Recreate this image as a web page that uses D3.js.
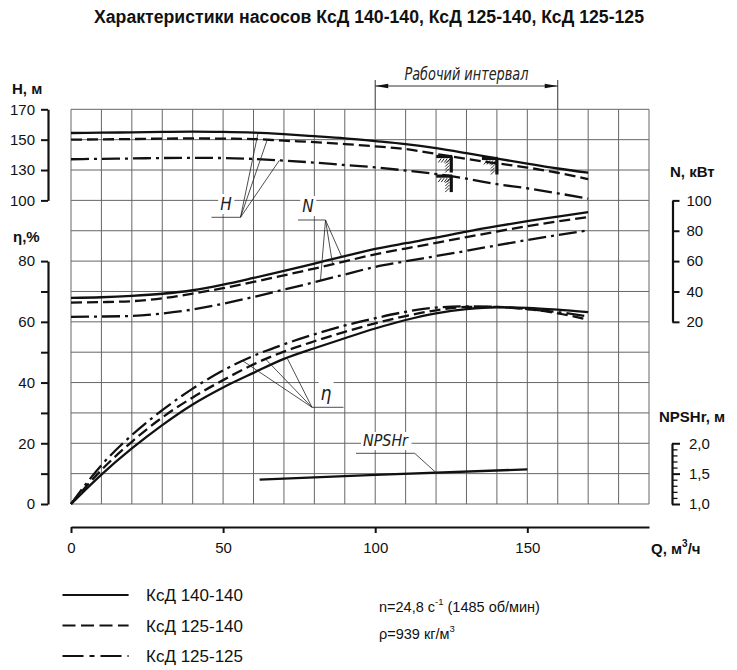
<!DOCTYPE html>
<html><head><meta charset="utf-8">
<script src="https://cdn.jsdelivr.net/npm/d3@7/dist/d3.min.js"></script>
<style>body{margin:0;background:#fff}svg{display:block}</style>
</head><body>
<svg id="c" width="737" height="670"></svg>
<script>
// ---------- data ----------
const title = "Характеристики насосов КсД 140-140, КсД 125-140, КсД 125-125";
const seriesNames = ["КсД 140-140", "КсД 125-140", "КсД 125-125"];
const Q = [0,10,20,30,40,50,60,70,80,90,100,110,120,130,140,150,160,170];

const H_140_140 = [154.4,154.6,154.8,155.1,155.3,155.1,154.6,153.6,152.3,150.9,149.1,147.1,144.4,141.1,137.6,134.2,131.0,127.3];
const H_125_140 = [150.0,150.2,150.4,150.7,150.8,150.7,150.4,149.3,148.4,147.1,145.6,143.8,140.6,137.3,134.4,131.6,127.3,121.0];
const H_125_125 = [137.1,137.4,137.6,137.9,138.0,137.9,137.3,136.2,134.9,133.3,131.8,129.5,126.0,121.5,116.0,112.0,107.0,101.7];

const N_140_140 = [35.8,36.2,37.1,38.5,40.8,44.5,48.9,53.5,58.4,63.3,68.0,71.8,75.4,79.4,83.0,86.3,89.3,92.3];
const N_125_140 = [32.7,33.0,33.6,35.5,38.6,42.2,46.3,50.6,55.1,59.8,64.5,68.3,72.0,75.8,79.5,83.0,86.2,89.0];
const N_125_125 = [23.3,23.5,23.9,25.5,28.1,31.9,36.4,41.2,46.1,51.2,56.2,59.9,63.3,66.8,70.4,73.9,77.2,80.3];

const Eta_140_140 = [0,9.7,18.3,26.0,32.8,38.4,43.2,47.8,51.3,54.6,57.8,60.6,62.8,64.2,64.8,64.6,64.0,63.2];
const Eta_125_140 = [0,11.2,20.5,28.5,35.1,40.8,46.0,50.2,53.6,56.7,59.5,61.9,63.8,64.9,64.9,64.2,62.8,60.7];
const Eta_125_125 = [0,12.8,22.7,30.9,38.0,44.0,48.8,52.6,55.9,58.8,61.2,63.3,64.7,65.1,64.9,64.2,63.2,61.8];

const NPSH_Q = [62, 100, 150];
const NPSH_V = [1.40, 1.48, 1.57];

// nominal-point markers (Q, H)
const nomQ = [125, 125, 140];
const nomH = [138.9, 124.0, 137.6];

// working interval
const workQ = [100, 160];

// axis ticks
const hTicks = [100, 130, 150, 170];
const etaTicks = [0,10,20,30,40,50,60,70,80];
const nTicks = [20, 40, 60, 80, 100];
const npshMajor = [1.0, 1.5, 2.0];
const npshMinor = [1.1,1.2,1.3,1.4,1.6,1.7,1.8,1.9];
const qTicks = [0, 50, 100, 150];

// ---------- layout ----------
const svg = d3.select("#c");
const FONT = "'Liberation Sans', Arial, sans-serif";
const NARROW = "'Liberation Sans Narrow', 'DejaVu Sans Condensed', 'Liberation Sans', sans-serif";

const xS = d3.scaleLinear().domain([0, 190]).range([71, 649]);
const rowS = d3.scaleLinear().domain([0, 13]).range([504, 109.3]);
const etaS = d3.scaleLinear().domain([0, 80]).range([rowS(0), rowS(8)]);
const hS = d3.scaleLinear().domain([100, 130, 170]).range([rowS(10), rowS(11), rowS(13)]);
const nS = d3.scaleLinear().domain([20, 100]).range([rowS(6), rowS(10)]);
const npS = d3.scaleLinear().domain([1, 2]).range([rowS(0), rowS(2)]);

// title
svg.append("text").attr("x", 369).attr("y", 23).attr("text-anchor", "middle")
  .attr("font-family", FONT).attr("font-weight", "bold").attr("font-size", 17.5)
  .attr("textLength", 550).attr("lengthAdjust", "spacingAndGlyphs")
  .attr("fill", "#111").text(title);

// grid
const grid = svg.append("g").attr("stroke", "#666").attr("stroke-width", 1);
d3.range(0, 191, 10).forEach(q => {
  grid.append("line").attr("x1", xS(q)).attr("x2", xS(q)).attr("y1", rowS(0)).attr("y2", rowS(13));
});
d3.range(0, 14).forEach(r => {
  grid.append("line").attr("x1", xS(0)).attr("x2", xS(190)).attr("y1", rowS(r)).attr("y2", rowS(r));
});

// working interval
const wi = svg.append("g").attr("stroke", "#333").attr("stroke-width", 1);
workQ.forEach(q => wi.append("line").attr("x1", xS(q)).attr("x2", xS(q)).attr("y1", 80).attr("y2", rowS(13)));
wi.append("line").attr("x1", xS(workQ[0])).attr("x2", xS(workQ[1])).attr("y1", 86).attr("y2", 86);
svg.append("path").attr("fill", "#111")
  .attr("d", `M${xS(workQ[0])},86 l13,-2.3 l0,4.6 Z M${xS(workQ[1])},86 l-13,-2.3 l0,4.6 Z`);
svg.append("text").attr("x", (xS(workQ[0]) + xS(workQ[1])) / 2).attr("y", 80)
  .attr("text-anchor", "middle").attr("font-family", NARROW).attr("font-style", "italic")
  .attr("font-size", 17).attr("fill", "#222")
  .attr("textLength", 124).attr("lengthAdjust", "spacingAndGlyphs").text("Рабочий интервал");

// ---------- axes ----------
function styleAxis(g, fs) {
  g.select(".domain").attr("stroke", "#111").attr("stroke-width", 2.2);
  g.selectAll(".tick line").attr("stroke", "#111").attr("stroke-width", 2);
  g.selectAll(".tick text").attr("font-family", FONT).attr("font-size", fs || 15).attr("fill", "#111");
}
const gH = svg.append("g").attr("transform", "translate(48,0)")
  .call(d3.axisLeft(hS).tickValues(hTicks).tickSize(7).tickSizeOuter(0).tickPadding(6));
styleAxis(gH);
const gE = svg.append("g").attr("transform", "translate(48,0)")
  .call(d3.axisLeft(etaS).tickValues(etaTicks).tickSize(7).tickSizeOuter(0).tickPadding(6)
    .tickFormat(d => d % 20 === 0 ? d : ""));
styleAxis(gE);
const gN = svg.append("g").attr("transform", "translate(672.5,0)")
  .call(d3.axisRight(nS).tickValues(nTicks).tickSize(7).tickSizeOuter(0).tickPadding(7));
styleAxis(gN);
const gP = svg.append("g").attr("transform", "translate(672,0)")
  .call(d3.axisRight(npS).tickValues(npshMajor).tickSize(8).tickSizeOuter(0).tickPadding(9)
    .tickFormat(d => d.toFixed(1).replace(".", ",")));
styleAxis(gP);
const gP2 = svg.append("g").attr("transform", "translate(672,0)")
  .call(d3.axisRight(npS).tickValues(npshMinor).tickSize(5.5).tickSizeOuter(0).tickFormat(""));
gP2.select(".domain").remove();
gP2.selectAll(".tick line").attr("stroke", "#111").attr("stroke-width", 1.3);
const gX = svg.append("g").attr("transform", "translate(0,527)")
  .call(d3.axisBottom(xS).tickValues(qTicks).tickSize(6).tickSizeOuter(0).tickPadding(9));
styleAxis(gX);

// axis titles
function boldText(x, y, parts, anchor) {
  const t = svg.append("text").attr("x", x).attr("y", y).attr("font-family", FONT)
    .attr("font-weight", "bold").attr("font-size", 15).attr("fill", "#111")
    .attr("text-anchor", anchor || "start");
  parts.forEach(p => {
    const s = t.append("tspan").text(p.t);
    if (p.sup) s.attr("font-size", 10).attr("dy", -7);
    if (p.down) s.attr("dy", 7);
  });
  return t;
}
boldText(12, 94, [{t: "H, м"}]);
boldText(13, 242, [{t: "η,%"}]);
boldText(670, 177, [{t: "N, кВт"}]);
boldText(659, 421.5, [{t: "NPSHr, м"}]);
boldText(651, 553.5, [{t: "Q, м"}, {t: "3", sup: true}, {t: "/ч", down: true}]);

// ---------- curves ----------
const dashes = [null, "11,5", "18,5,3,5"];
const line = sc => d3.line().x(d => xS(d[0])).y(d => sc(d[1])).curve(d3.curveMonotoneX);
const curves = svg.append("g").attr("fill", "none").attr("stroke", "#111").attr("stroke-width", 2.3);
function drawSet(arrs, sc) {
  arrs.forEach((arr, i) => {
    curves.append("path").attr("d", line(sc)(Q.map((q, k) => [q, arr[k]])))
      .attr("stroke-dasharray", dashes[i]);
  });
}
drawSet([H_140_140, H_125_140, H_125_125], hS);
drawSet([N_140_140, N_125_140, N_125_125], nS);
drawSet([Eta_140_140, Eta_125_140, Eta_125_125], etaS);
curves.append("path").attr("d", d3.line().x(d => xS(d[0])).y(d => npS(d[1]))(NPSH_Q.map((q, k) => [q, NPSH_V[k]])));

// nominal point markers
const mk = svg.append("g").attr("stroke", "#111");
nomQ.forEach((q, i) => {
  const cx = xS(q), cy = hS(nomH[i]);
  mk.append("line").attr("x1", cx - 15).attr("x2", cx + 1).attr("y1", cy).attr("y2", cy).attr("stroke-width", 3.2);
  mk.append("line").attr("x1", cx).attr("x2", cx).attr("y1", cy).attr("y2", cy + 16).attr("stroke-width", 3.2);
  for (let k = 0; k < 4; k++) {
    mk.append("line").attr("x1", cx - 13 + 3 * k).attr("y1", cy + 6).attr("x2", cx - 10 + 3 * k).attr("y2", cy + 2).attr("stroke-width", 0.9);
    mk.append("line").attr("x1", cx - 6).attr("y1", cy + 7 + 3 * k).attr("x2", cx - 2).attr("y2", cy + 3 + 3 * k).attr("stroke-width", 0.9);
  }
});

// ---------- annotations ----------
function valAt(arr, qs, q) {
  for (let k = 0; k < qs.length - 1; k++) {
    if (q >= qs[k] && q <= qs[k + 1]) {
      const t = (q - qs[k]) / (qs[k + 1] - qs[k]);
      return arr[k] + t * (arr[k + 1] - arr[k]);
    }
  }
  return arr[arr.length - 1];
}
const ann = svg.append("g");
function label(txt, cx, by, size, tl) {
  const t = ann.append("text").attr("x", cx).attr("y", by).attr("text-anchor", "middle")
    .attr("font-family", NARROW).attr("font-style", "italic").attr("font-size", size)
    .attr("fill", "#222").text(txt);
  if (tl) t.attr("textLength", tl).attr("lengthAdjust", "spacingAndGlyphs");
  const b = t.node().getBBox();
  ann.insert("rect", "text").attr("x", b.x - 2).attr("y", b.y).attr("width", b.width + 4)
    .attr("height", b.height).attr("fill", "#fff");
}
function leader(ux1, ux2, uy, cx, targets) {
  const g = ann.append("g").attr("stroke", "#222").attr("stroke-width", 0.8);
  g.append("line").attr("x1", ux1).attr("x2", ux2).attr("y1", uy).attr("y2", uy);
  targets.forEach(p => g.append("line").attr("x1", cx).attr("y1", uy).attr("x2", p[0]).attr("y2", p[1]));
}
label("H", 226, 210, 17);
leader(211.5, 240.5, 217.3, 240.5, [
  [xS(61.5), hS(valAt(H_140_140, Q, 61.5))],
  [xS(64.5), hS(valAt(H_125_140, Q, 64.5))],
  [xS(68.5), hS(valAt(H_125_125, Q, 68.5))]]);
label("N", 308, 212, 17);
leader(298, 325.5, 220, 325.5, [
  [xS(89), nS(valAt(N_140_140, Q, 89))],
  [xS(86), nS(valAt(N_125_140, Q, 86))],
  [xS(82), nS(valAt(N_125_125, Q, 82))]]);
label("η", 326, 400, 19);
leader(312, 343.5, 407.3, 312, [
  [xS(71), etaS(valAt(Eta_140_140, Q, 71))],
  [xS(64), etaS(valAt(Eta_125_140, Q, 64))],
  [xS(56.5), etaS(valAt(Eta_125_125, Q, 56.5))]]);
label("NPSHr", 385.5, 446, 15, 45);
leader(356, 414.7, 453.3, 414.7, [[xS(120), npS(valAt(NPSH_V, NPSH_Q, 120))]]);

// ---------- legend ----------
const lg = svg.append("g");
[595, 625.5, 656].forEach((y, i) => {
  lg.append("line").attr("x1", 62.5).attr("x2", 128.6).attr("y1", y).attr("y2", y)
    .attr("stroke", "#111").attr("stroke-width", 2.2)
    .attr("stroke-dasharray", i === 1 ? "13,5.5" : (i === 2 ? "21,6,5,6" : null));
  lg.append("text").attr("x", 146).attr("y", y + 6).attr("font-family", FONT)
    .attr("font-size", 17).attr("fill", "#111").text(seriesNames[i]);
});

// parameters
const p1 = svg.append("text").attr("x", 379).attr("y", 612).attr("font-family", FONT)
  .attr("font-size", 14.5).attr("fill", "#111");
p1.append("tspan").text("n=24,8 с");
p1.append("tspan").text("-1").attr("font-size", 9.5).attr("dy", -7);
p1.append("tspan").text(" (1485 об/мин)").attr("dy", 7);
const p2 = svg.append("text").attr("x", 379).attr("y", 639).attr("font-family", FONT)
  .attr("font-size", 14.5).attr("fill", "#111");
p2.append("tspan").text("ρ=939 кг/м");
p2.append("tspan").text("3").attr("font-size", 9.5).attr("dy", -7);
</script>
</body></html>
